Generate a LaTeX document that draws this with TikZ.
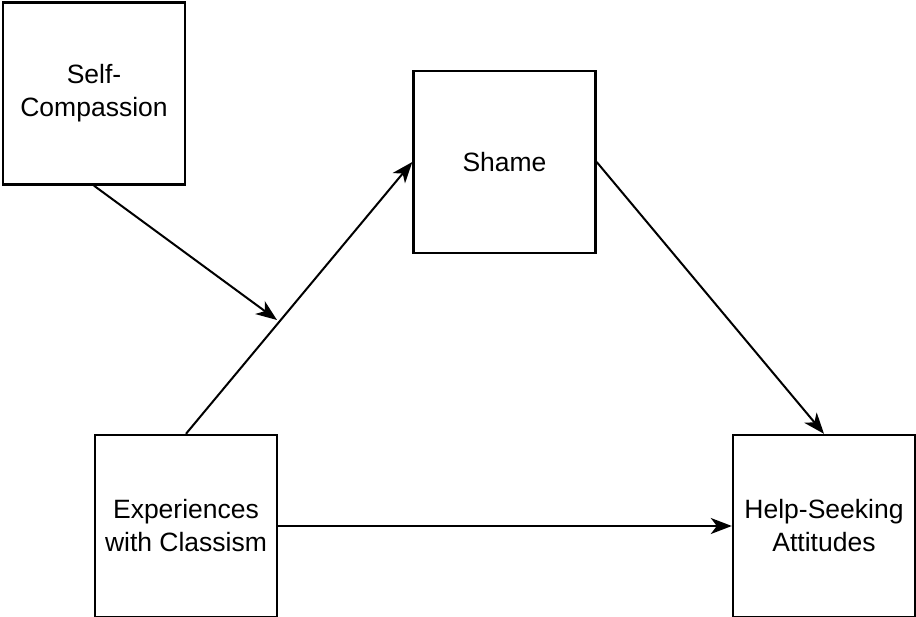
\documentclass[tikz,border=0pt]{standalone}
\usepackage{fontspec}
\setmainfont{Liberation Sans}
\usetikzlibrary{arrows.meta}
\begin{document}
\begin{tikzpicture}[x=1pt,y=-1pt,
  box/.style={draw, line width=2.4pt, minimum width=182pt, minimum height=182pt, inner sep=0pt, align=center, font=\fontsize{26.5}{33}\selectfont},
  tip/.tip={Stealth[length=21pt,width=16pt,inset=6pt]},
  conn/.style={line width=2pt, -tip}]
\useasboundingbox (0,0) rectangle (916,617);
\node[box] (self) at (94,93.5) {Self-\\Compassion};
\node[box] (shame) at (504.5,162) {Shame};
\node[box] (exp) at (186,526) {Experiences\\with Classism};
\node[box] (help) at (824,526) {Help-Seeking\\Attitudes};
\coordinate (mid) at (277,320);
\draw[conn] (exp.north) -- (shame.west);
\draw[conn] (self.south) -- (mid);
\draw[conn] (shame.east) -- (help.north);
\draw[conn] (exp.east) -- (help.west);
\end{tikzpicture}
\end{document}
